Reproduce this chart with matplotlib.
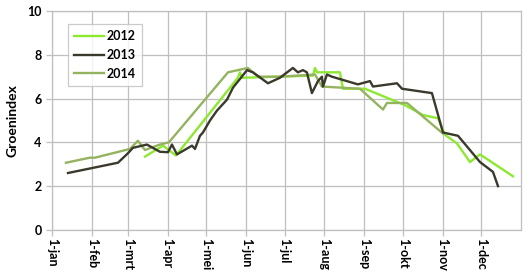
import matplotlib
matplotlib.use("Agg")
import matplotlib.pyplot as plt

# Day-of-year positions and Groenindex values
days_2012 = [72.4, 86.4, 96.5, 144.7, 146.3, 147.9, 203.1, 204.7, 206.2, 224.1, 226.5,
             243.6, 274.7, 288.7, 300.4, 305.8, 315.2, 325.3, 333.1, 358.8]
vals_2012 = [3.35, 3.85, 3.4, 6.95, 7.2, 6.95, 7.05, 7.4, 7.2, 7.2, 6.45,
             6.45, 5.7, 5.25, 5.1, 4.35, 3.95, 3.1, 3.45, 2.45]

days_2013 = [12.5, 51.4, 59.1, 63.0, 73.9, 84.0, 90.3, 93.4, 97.3, 109.0, 111.3, 115.2,
             117.5, 123.0, 128.4, 136.2, 140.9, 151.8, 156.4, 168.1, 177.4, 187.5, 191.4,
             195.3, 198.4, 202.3, 207.0, 210.1, 210.9, 214.0, 217.9, 238.1, 247.5, 249.8,
             268.5, 272.4, 295.7, 304.3, 316.0, 333.1, 343.2, 347.1]
vals_2013 = [2.6, 3.07, 3.5, 3.75, 3.9, 3.57, 3.55, 3.9, 3.45, 3.85, 3.7, 4.3,
             4.45, 5.0, 5.45, 5.95, 6.5, 7.3, 7.2, 6.7, 6.95, 7.4, 7.2,
             7.3, 7.2, 6.25, 6.8, 7.0, 6.55, 7.1, 7.0, 6.65, 6.8, 6.55,
             6.7, 6.45, 6.25, 4.45, 4.3, 3.1, 2.65, 2.0]

days_2014 = [10.9, 29.6, 33.5, 60.7, 66.9, 72.4, 84.0, 91.0, 137.0, 152.5, 160.3, 177.4,
             204.7, 210.1, 239.7, 257.6, 260.7, 276.3, 304.3]
vals_2014 = [3.07, 3.3, 3.3, 3.7, 4.07, 3.65, 3.9, 4.0, 7.2, 7.4, 7.0, 7.0,
             7.1, 6.55, 6.45, 5.5, 5.8, 5.8, 4.4]

month_starts = [0, 31, 59, 90, 120, 151, 181, 212, 243, 273, 304, 334]
month_labels = ["1-jan", "1-feb", "1-mrt", "1-apr", "1-mei", "1-jun",
                "1-jul", "1-aug", "1-sep", "1-okt", "1-nov", "1-dec"]
y_ticks = [0, 2, 4, 6, 8, 10]

plt.rcParams['font.family'] = ['Lato', 'DejaVu Sans']
plt.rcParams['font.weight'] = 'bold'

fig = plt.figure(figsize=(5.3, 2.76), dpi=100)
ax = fig.add_axes([0.098, 0.167, 0.885, 0.793])

grid_c = "#BFBFBF"
ax.plot(days_2012, vals_2012, color="#8DE830", lw=1.7, label="2012", zorder=3)
ax.plot(days_2013, vals_2013, color="#3B392C", lw=1.7, label="2013", zorder=4)
ax.plot(days_2014, vals_2014, color="#94B35E", lw=1.7, label="2014", zorder=3)

ax.set_xlim(0, 365)
ax.set_ylim(0, 10)
ax.set_xticks(month_starts)
ax.set_xticklabels(month_labels, rotation=-90, fontsize=9, fontweight='bold')
ax.set_yticks(y_ticks)
ax.set_yticklabels([str(t) for t in y_ticks], fontsize=9, fontweight='bold')
ax.grid(True, color=grid_c, lw=0.9)
ax.set_axisbelow(True)
for s in ax.spines.values():
    s.set_color(grid_c)
    s.set_linewidth(0.9)
ax.tick_params(axis='both', colors=grid_c, length=4, width=0.9, labelcolor='black')
ax.tick_params(axis='x', pad=2)
ax.set_ylabel("Groenindex", fontsize=10, fontweight='bold', labelpad=6)

leg = ax.legend(loc='upper left', bbox_to_anchor=(0.02, 0.97), fontsize=9,
                handlelength=2.4, frameon=True, fancybox=False, borderpad=0.5,
                labelspacing=0.55, handletextpad=0.2)
leg.get_frame().set_edgecolor(grid_c)
leg.get_frame().set_linewidth(0.9)
for t in leg.get_texts():
    t.set_fontweight('bold')

fig.savefig("out.png", dpi=100)
